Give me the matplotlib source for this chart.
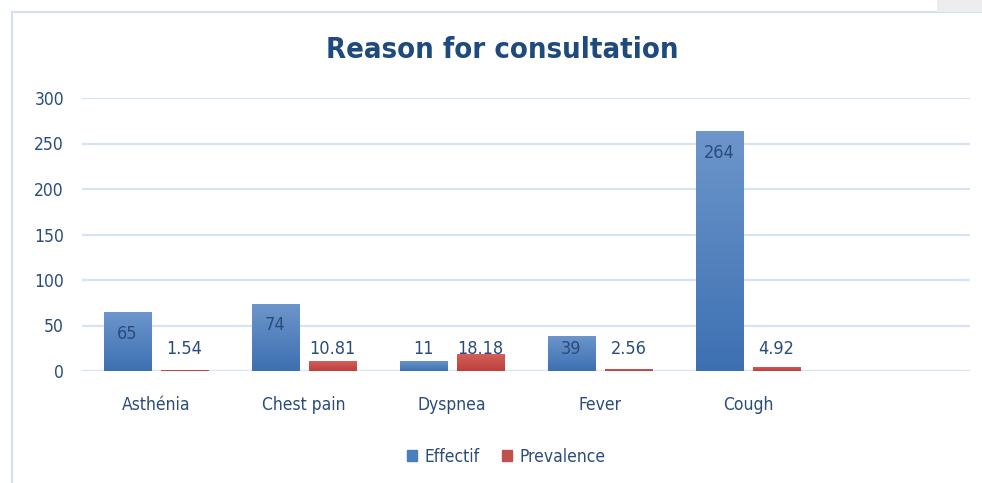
import matplotlib
matplotlib.use("Agg")
import matplotlib.pyplot as plt
from matplotlib import font_manager
from matplotlib.patches import Rectangle
from matplotlib.colors import LinearSegmentedColormap
import numpy as np

# data
categories = ["Asthénia", "Chest pain", "Dyspnea", "Fever", "Cough", ""]
effectif = [65, 74, 11, 39, 264, 0]
prevalence = [1.54, 10.81, 18.18, 2.56, 4.92, 0]
eff_labels = ["65", "74", "11", "39", "264", ""]
prev_labels = ["1.54", "10.81", "18.18", "2.56", "4.92", ""]
yticks = [0, 50, 100, 150, 200, 250, 300]

# pick a narrow font if one is installed (reference uses a Calibri-like face)
fonts = font_manager.fontManager.ttflist
family, stretch = "Roboto", "normal"
if any(f.name == "Liberation Sans Narrow" for f in fonts):
    family = "Liberation Sans Narrow"
elif any(f.name == "DejaVu Sans" and f.stretch in ("condensed", "semi-condensed") for f in fonts):
    family, stretch = "DejaVu Sans", "condensed"
plt.rcParams['font.family'] = [family, 'DejaVu Sans']
plt.rcParams['font.stretch'] = stretch

text_col = "#2A4C7C"
grid_col = "#D6E3F2"
blue = "#4A7EBE"
red = "#C0504D"

fig = plt.figure(figsize=(9.82, 4.83), dpi=100)
W, H = 982, 483

# outer frame + grey corner
fig.patches.append(Rectangle((12 / W, -0.1), 1.2, 1 - 12 / H + 0.1, transform=fig.transFigure,
                             fill=False, edgecolor="#D3E0F0", lw=1.5))
fig.patches.append(Rectangle((937 / W, 1 - 12 / H), 50 / W, 12 / H, transform=fig.transFigure,
                             facecolor="#EDEDED", edgecolor="none"))

ax = fig.add_axes([82 / W, 1 - 371 / H, (970 - 82) / W, (371 - 98) / H])
x = np.arange(len(categories))
w = 0.318
off = w / 2 + 0.034


def grad_bars(xs, vals, color_top, color_bot):
    bars = ax.bar(xs, vals, w, color=color_bot, zorder=3)
    grad = np.linspace(0, 1, 64).reshape(-1, 1)
    cmap = LinearSegmentedColormap.from_list("g", [color_bot, color_top])
    for b in bars:
        if b.get_height() <= 0:
            continue
        x0, y0 = b.get_x(), b.get_y()
        im = ax.imshow(grad, extent=[x0, x0 + b.get_width(), y0, y0 + b.get_height()],
                       origin="lower", cmap=cmap, aspect="auto", zorder=3)
        im.set_clip_path(b)
    return bars


grad_bars(x - off, effectif, "#6D96CB", "#3D70B2")
grad_bars(x + off, prevalence, "#D45F5B", "#BC403C")

for xi, v, lab in zip(x - off, effectif, eff_labels):
    if lab:
        ax.text(xi, max(v - 24, 24), lab, ha="center", va="center", fontsize=13,
                color=text_col, zorder=5)
for xi, v, lab in zip(x + off, prevalence, prev_labels):
    if lab:
        ax.text(xi, max(v - 24, 24), lab, ha="center", va="center", fontsize=13,
                color=text_col, zorder=5)

ax.set_xlim(-0.5, len(categories) - 0.5)
ax.set_ylim(0, 300)
ax.set_yticks(yticks)
ax.set_yticklabels([str(t) for t in yticks], fontsize=12.5, color=text_col)
ax.set_xticks(x)
ax.set_xticklabels(categories, fontsize=12.5, color=text_col)
ax.tick_params(axis="y", length=0, pad=13)
ax.tick_params(axis="x", length=0, pad=18)
for s in ax.spines.values():
    s.set_visible(False)
ax.yaxis.grid(True, color=grid_col, lw=1.6, zorder=0)
ax.set_axisbelow(True)

fig.text(502 / W, 1 - 50 / H, "Reason for consultation", ha="center", va="center",
         fontsize=21, fontweight="bold", color="#1F4A7E")

handles = [Rectangle((0, 0), 1, 1, color=blue), Rectangle((0, 0), 1, 1, color=red)]
fig.legend(handles, ["Effectif", "Prevalence"], loc="center", bbox_to_anchor=(506 / W, 1 - 457 / H),
           ncol=2, frameon=False, fontsize=12.5, labelcolor=text_col, handlelength=0.6,
           handleheight=0.6, handletextpad=0.4, columnspacing=1.3)

fig.savefig("out.png", dpi=100)
